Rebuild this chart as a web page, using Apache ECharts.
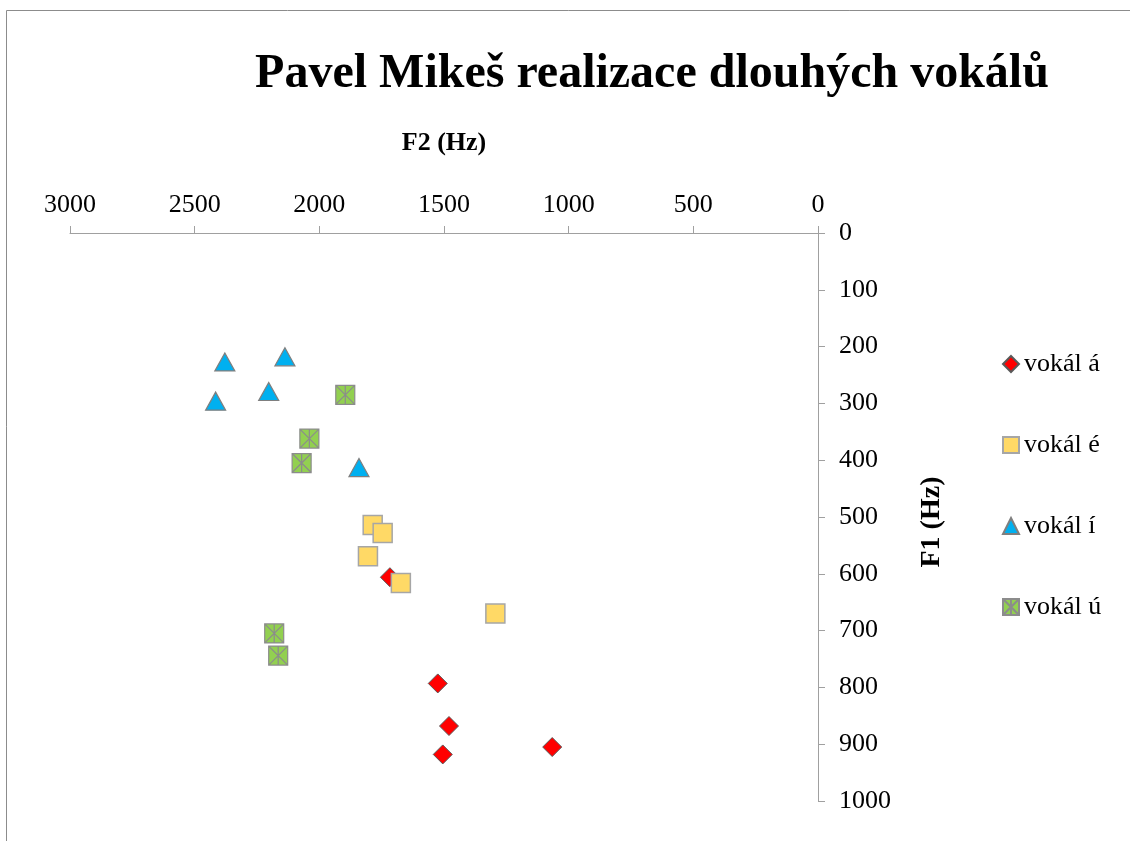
<!DOCTYPE html>
<html>
<head>
<meta charset="utf-8">
<script src="https://cdn.jsdelivr.net/npm/echarts@6/dist/echarts.min.js"></script>
<style>
  html, body { margin: 0; padding: 0; background: #fff; }
  #chart { width: 1130px; height: 841px; }
</style>
</head>
<body>
<div id="chart"></div>
<script>
// [F2, F1] pairs in Hz
const vokalA = [[1717, 606], [1525, 793], [1480, 868], [1505, 918], [1066, 905]];
const vokalE = [[1786, 514], [1746, 528], [1805, 569], [1673, 616], [1294, 670]];
const vokalI = [[2379, 227], [2138, 218], [2203, 279], [2416, 296], [1841, 413]];
const vokalU = [[1896, 285], [2040, 362], [2071, 405], [2181, 705], [2165, 744]];
const seriesNames = ['vokál á', 'vokál é', 'vokál í', 'vokál ú'];

const serif = "'Liberation Serif', 'Times New Roman', serif";
const axisGray = '#a0a0a0';

// square with an asterisk inside
const starSquare = 'path://M0,0 L10,0 L10,10 L0,10 Z M5,0 L5,10 M0,0 L10,10 M10,0 L0,10';

let chart = echarts.init(document.getElementById('chart'));

let plainNum = (v) => String(v);

let option = {
    backgroundColor: '#fff',
    animation: false,
    title: {
        text: 'Pavel Mikeš realizace dlouhých vokálů',
        left: 647,
        textAlign: 'center',
        top: 46,
        textStyle: {
            fontFamily: serif,
            fontWeight: 'bold',
            fontSize: 48,
            color: '#000'
        }
    },
    legend: {
        orient: 'vertical',
        left: 997,
        top: 346,
        itemGap: 55,
        itemWidth: 16,
        itemHeight: 16,
        data: seriesNames,
        textStyle: {
            fontFamily: serif,
            fontSize: 26,
            color: '#000'
        }
    },
    graphic: [{
        type: 'rect',
        shape: { x: 6.5, y: 10.5, width: 1200, height: 900 },
        style: { fill: null, stroke: '#8c8c8c', lineWidth: 1 },
        silent: true
    }],
    grid: {
        left: 70,
        right: 312,
        top: 233,
        bottom: 40
    },
    xAxis: {
        type: 'value',
        position: 'top',
        inverse: true,
        min: 0,
        max: 3000,
        interval: 500,
        name: 'F2 (Hz)',
        nameLocation: 'middle',
        nameGap: 77,
        nameTextStyle: {
            fontFamily: serif,
            fontWeight: 'bold',
            fontSize: 26,
            color: '#000'
        },
        axisLine: { lineStyle: { color: axisGray } },
        axisTick: { length: 7, lineStyle: { color: axisGray } },
        axisLabel: {
            fontFamily: serif,
            fontSize: 26,
            color: '#000',
            margin: 15,
            formatter: plainNum
        },
        splitLine: { show: false }
    },
    yAxis: {
        type: 'value',
        position: 'right',
        inverse: true,
        min: 0,
        max: 1000,
        interval: 100,
        name: 'F1 (Hz)',
        nameLocation: 'middle',
        nameGap: 100,
        nameRotate: 90,
        nameTextStyle: {
            fontFamily: serif,
            fontWeight: 'bold',
            fontSize: 28,
            color: '#000',
            padding: [0, 10, 0, 0]
        },
        axisLine: { lineStyle: { color: axisGray } },
        axisTick: { length: 7, lineStyle: { color: axisGray } },
        axisLabel: {
            fontFamily: serif,
            fontSize: 26,
            color: '#000',
            margin: 21,
            formatter: plainNum
        },
        splitLine: { show: false }
    },
    series: [
        {
            name: seriesNames[0],
            type: 'scatter',
            data: vokalA,
            symbol: 'diamond',
            symbolSize: 19,
            itemStyle: { color: '#ff0000', borderColor: '#595959', borderWidth: 1, opacity: 1 }
        },
        {
            name: seriesNames[1],
            type: 'scatter',
            data: vokalE,
            symbol: 'rect',
            symbolSize: 19,
            itemStyle: { color: '#ffd966', borderColor: '#a6a6a6', borderWidth: 1.5, opacity: 1 }
        },
        {
            name: seriesNames[2],
            type: 'scatter',
            data: vokalI,
            symbol: 'triangle',
            symbolSize: [20, 18],
            itemStyle: { color: '#00b0f0', borderColor: '#7f7f7f', borderWidth: 1.2, opacity: 1 }
        },
        {
            name: seriesNames[3],
            type: 'scatter',
            data: vokalU,
            symbol: starSquare,
            symbolSize: 19,
            itemStyle: { color: '#92d050', borderColor: '#8c8c8c', borderWidth: 1.2, opacity: 1 }
        }
    ]
};

chart.setOption(option);
</script>
</body>
</html>
